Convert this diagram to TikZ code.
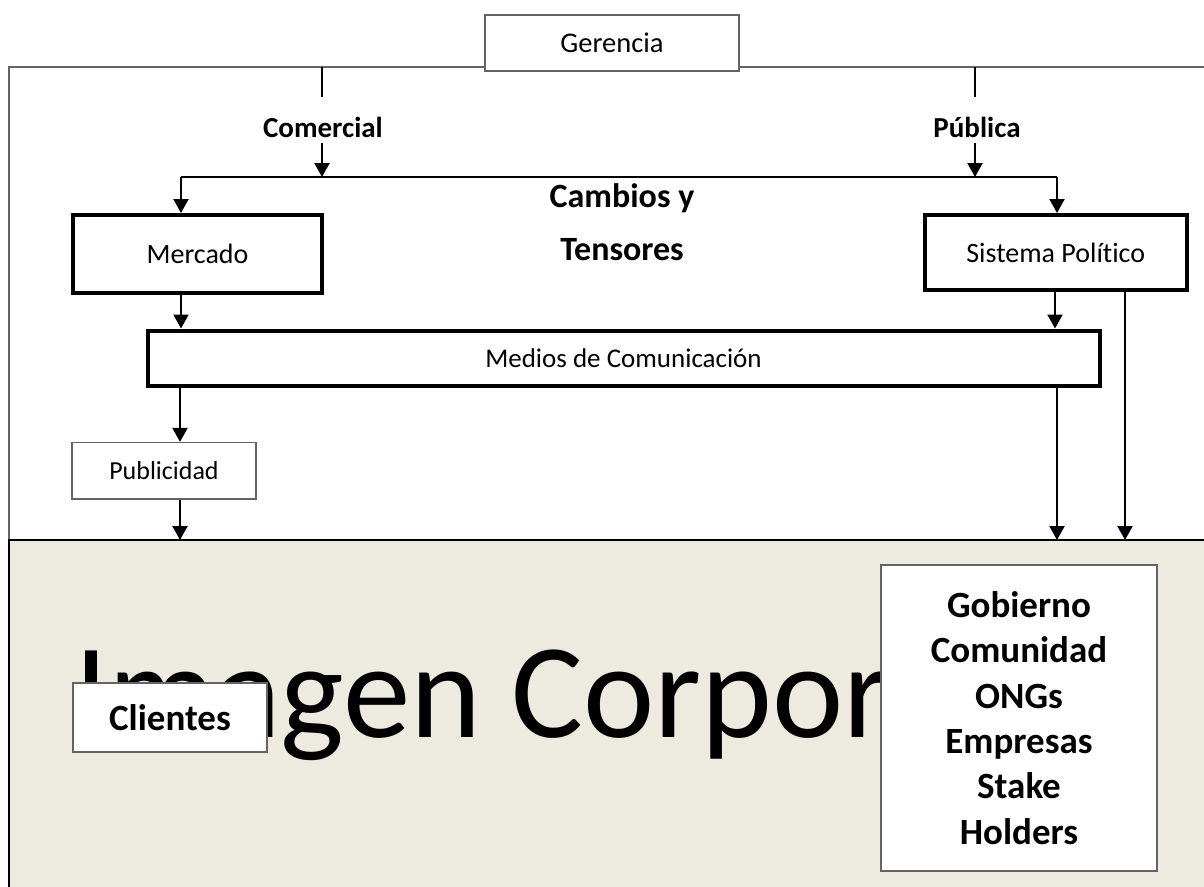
\documentclass[tikz,border=0pt]{standalone}
\usepackage{fontspec}
\setmainfont{Carlito}[Ligatures={NoCommon}]
\usetikzlibrary{arrows.meta}
\definecolor{beige}{RGB}{237,235,224}
\definecolor{edge}{RGB}{100,100,100}
\begin{document}
\begin{tikzpicture}[x=1pt,y=-1pt,
  conn/.style={line width=2.2pt},
  arr/.style={conn,-{Triangle[width=15pt,length=14pt]}},
  thickbox/.style={draw=black,line width=4pt,fill=white,inner sep=0pt,
    font=\fontsize{28}{34}\selectfont},
  thinbox/.style={draw=edge,line width=1.3pt,fill=white,inner sep=0pt},
  lbl/.style={inner sep=0pt,font=\bfseries\fontsize{29}{34}\selectfont}]
\path[use as bounding box,clip] (0,0) rectangle (1204,886);

% outer frame and the shaded area below it
\draw[edge,line width=1.6pt] (1300,67) -- (9,67) -- (9,540);
\fill[beige] (9,540) rectangle (1300,1000);
\draw[black,line width=2.5pt] (1300,540) -- (9,540) -- (9,1000);

% large background title
\node[anchor=base west,inner sep=0pt,font=\fontsize{135}{140}\selectfont] (title) at (74,737) {Imagen Corpor};

% boxes
\node[thinbox,minimum width=254pt,minimum height=56pt,font=\fontsize{28.5}{34}\selectfont] (ger) at (612,43) {Gerencia};
\node[thickbox,minimum width=249pt,minimum height=77.5pt] (merc) at (197.5,253.75) {Mercado};
\node[thickbox,minimum width=261.5pt,minimum height=75pt] (sis) at (1055.75,252.5) {Sistema Político};
\node[thickbox,minimum width=952pt,minimum height=55pt,font=\fontsize{27}{34}\selectfont] (med) at (623.5,358) {Medios de Comunicación};
\node[thinbox,minimum width=184pt,minimum height=56.5pt,font=\fontsize{26}{32}\selectfont] (pub) at (164,470.75) {Publicidad};
\node[thinbox,minimum width=194pt,minimum height=69pt,font=\bfseries\fontsize{37}{44}\selectfont] (cli) at (170,717.5) {Clientes};
\node[thinbox,minimum width=276pt,minimum height=306pt,align=center,
  font=\bfseries\fontsize{37}{45.4}\selectfont] (gob) at (1019,718)
  {Gobierno\\Comunidad\\ONGs\\Empresas\\Stake\\Holders};

% labels
\node[lbl] (com) at (323,127) {Comercial};
\node[lbl] (pubca) at (977,127) {Pública};
\node[inner sep=0pt,align=center,font=\bfseries\fontsize{34}{53}\selectfont] (camb) at (622,222) {Cambios y\\Tensores};

% branching from the frame
\coordinate (cT) at (322,67);
\coordinate (cB) at (322,97);
\coordinate (pT) at (975,67);
\coordinate (pB) at (975,97);
\coordinate (barL) at (181,177);
\coordinate (barR) at (1057,177);
\draw[conn] (cT) -- (cB);
\draw[conn] (pT) -- (pB);
\draw[arr] (322,143) -- (322,177);
\draw[arr] (975,143) -- (975,177);
\draw[conn] (barL) -- (barR);
\draw[arr] (barL) -- (merc.north -| barL);
\draw[arr] (barR) -- (sis.north -| barR);

% flows down to the media and to the shaded area
\coordinate (colA) at (181,0);
\coordinate (colB) at (180,0);
\coordinate (colC) at (1055,0);
\coordinate (colD) at (1057,0);
\coordinate (colE) at (1125,0);
\coordinate (base) at (0,540);
\draw[arr] (merc.south -| colA) -- (med.north -| colA);
\draw[arr] (sis.south -| colC) -- (med.north -| colC);
\draw[arr] (med.south -| colB) -- (pub.north -| colB);
\draw[arr] (pub.south -| colB) -- (base -| colB);
\draw[arr] (med.south -| colD) -- (base -| colD);
\draw[arr] (sis.south -| colE) -- (base -| colE);
\end{tikzpicture}
\end{document}
